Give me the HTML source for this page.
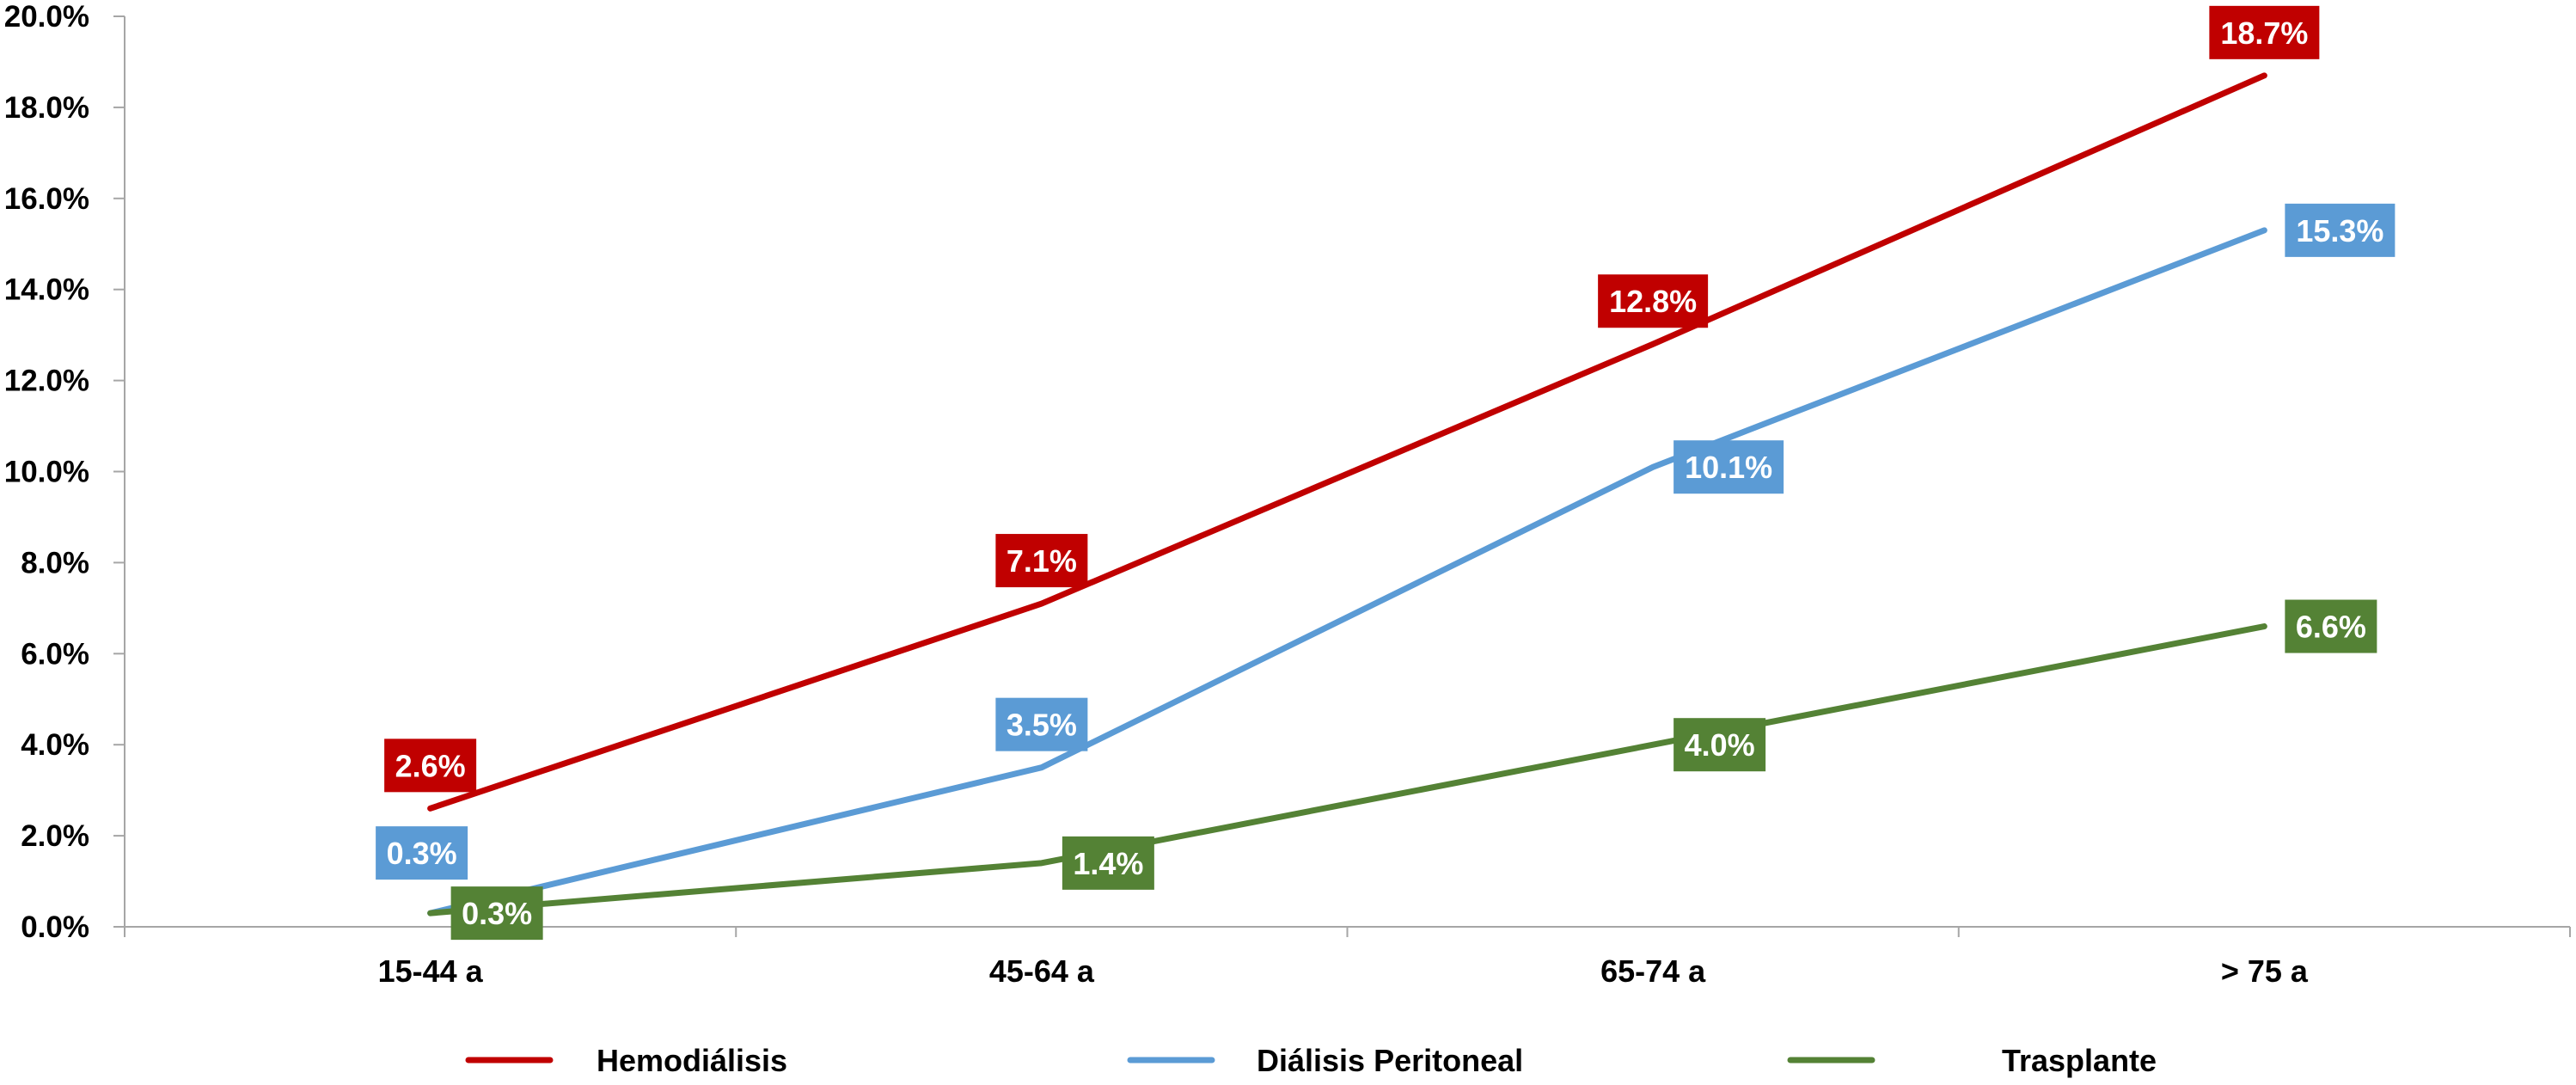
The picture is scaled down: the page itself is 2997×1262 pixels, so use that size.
<!DOCTYPE html>
<html><head><meta charset="utf-8"><style>
body{margin:0;background:#fff;}
svg{display:block;font-family:"Liberation Sans",sans-serif;font-weight:bold;}
</style></head><body>
<svg id="chart" width="2997" height="1262" viewBox="0 0 2997 1262" xmlns="http://www.w3.org/2000/svg"></svg>
<script>
const categories = ["15-44 a","45-64 a","65-74 a","> 75 a"];
const seriesNames = ["Hemodiálisis","Diálisis Peritoneal","Trasplante"];
const hemodialisis = [2.6, 7.1, 12.8, 18.7];
const dialisisPeritoneal = [0.3, 3.5, 10.1, 15.3];
const trasplante = [0.3, 1.4, 4.0, 6.6];
const yTicks = [0,2,4,6,8,10,12,14,16,18,20];
const yTickLabels = ["0.0%","2.0%","4.0%","6.0%","8.0%","10.0%","12.0%","14.0%","16.0%","18.0%","20.0%"];
// label placement per point: 'a' above, 'r' right, 'al' above-left
const labelPos = [["a","a","a","a"],["al","a","r","r"],["r","r","r","r"]];

const NS="http://www.w3.org/2000/svg";
const svg=document.getElementById('chart');
const X0=145,X1=2990,Y0=1078,Y1=19;
const colors=["#C00000","#5B9BD5","#548235"];
const series=[hemodialisis,dialisisPeritoneal,trasplante];
function xs(i){return X0+(X1-X0)/categories.length*(i+0.5);}
function ys(v){return Y0-(Y0-Y1)*v/20;}
function mk(tag,attrs){const e=document.createElementNS(NS,tag);for(const k in attrs)e.setAttribute(k,attrs[k]);svg.appendChild(e);return e;}

let e;
e=mk('line',{x1:X0,y1:Y1,x2:X0,y2:Y0+10,stroke:'#a6a6a6','stroke-width':2});


e=mk('line',{x1:X0,y1:Y0,x2:X1,y2:Y0,stroke:'#a6a6a6','stroke-width':2});


yTicks.forEach((t,i)=>{
  e=mk('line',{x1:X0-13,y1:ys(t),x2:X0,y2:ys(t),stroke:'#a6a6a6','stroke-width':2});
  
  
  e=mk('text',{x:104,y:ys(t)+12,'text-anchor':'end','font-size':35,fill:'#000'});
  e.textContent=yTickLabels[i];
  
  
});
for(let i=0;i<=categories.length;i++){
  const x=X0+(X1-X0)/categories.length*i;
  e=mk('line',{x1:x,y1:Y0,x2:x,y2:Y0+12,stroke:'#a6a6a6','stroke-width':2});
  
  
}
categories.forEach((c,i)=>{
  e=mk('text',{x:xs(i),y:1142,'text-anchor':'middle','font-size':36,fill:'#000'});
  e.textContent=c;
  
  
});
series.forEach((s,k)=>{
  const pts=s.map((v,i)=>xs(i)+','+ys(v)).join(' ');
  e=mk('polyline',{points:pts,fill:'none',stroke:colors[k],'stroke-width':7,'stroke-linejoin':'round','stroke-linecap':'round'});
  
  
});
series.forEach((s,k)=>{
  s.forEach((v,i)=>{
    const txt=v.toFixed(1)+'%';
    const w=txt.length>4?128:107, h=62;
    let cx=xs(i), cy=ys(v);
    const p=labelPos[k][i];
    if(p==='a'){cy-=50;}
    else if(p==='al'){cy-=70;cx-=10;}
    else {cx+=24+w/2;}
    e=mk('rect',{x:cx-w/2,y:cy-h/2,width:w,height:h,fill:colors[k]});
    
    
    e=mk('text',{x:cx,y:cy+13,'text-anchor':'middle','font-size':36,fill:'#fff'});
    e.textContent=txt;
    
    
  });
});
const legX=[[545,694],[1315,1462],[2083,2329]];
seriesNames.forEach((n,k)=>{
  e=mk('line',{x1:legX[k][0],y1:1233,x2:legX[k][0]+95,y2:1233,stroke:colors[k],'stroke-width':7,'stroke-linecap':'round'});
  
  
  e=mk('text',{x:legX[k][1],y:1246,'font-size':36,fill:'#000'});
  e.textContent=n;
  
  
});
</script>
</body></html>
